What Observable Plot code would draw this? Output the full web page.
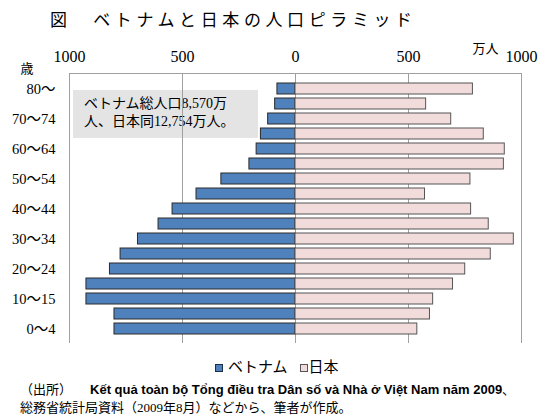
<!DOCTYPE html>
<html><head><meta charset="utf-8">
<script src="https://cdn.jsdelivr.net/npm/d3@7"></script>
<script src="https://cdn.jsdelivr.net/npm/@observablehq/plot@0.6"></script>
<style>
html,body{margin:0;padding:0;background:#fff;}
body{width:550px;height:416px;overflow:hidden;position:relative;font-family:"Liberation Serif","Noto Sans CJK JP",serif;color:#000;}
#title{position:absolute;left:50px;top:8px;font-size:17px;letter-spacing:4.6px;line-height:26px;white-space:nowrap;}
#note{position:absolute;left:73px;top:90px;width:185px;height:48px;background:#e4e4e4;z-index:0;font-size:14px;line-height:18px;box-sizing:border-box;padding:5px 0 0 11px;white-space:nowrap;}
#chart{position:absolute;left:0;top:35px;z-index:1;}
#legend{position:absolute;left:215px;top:357px;font-size:15px;line-height:20px;white-space:nowrap;}
.sw{display:inline-block;width:6px;height:6px;border:1px solid #333;vertical-align:0px;}
#caption{position:absolute;left:20px;top:381px;font-size:13px;line-height:18px;white-space:nowrap;}
.vn{font-family:"Liberation Sans",Arial,sans-serif;font-size:13px;font-weight:bold;margin-left:18px;}
</style></head>
<body>
<div id="title"></div>
<div id="note"></div>
<div id="chart"></div>
<div id="legend"></div>
<div id="caption"></div>
<script>
// ---- data ----
const ages = ["0～4","5～9","10～15","15～19","20～24","25～29","30～34","35～39","40～44","45～49","50～54","55～59","60～64","65～69","70～74","75～79","80～"];
const vietnam = [801,801,925,925,821,774,697,606,544,438,328,204,172,153,121,90,80];
const japan   = [539,595,609,697,751,864,966,855,777,573,774,922,926,833,689,578,785];
const yTickLabels = ["80～","70～74","60～64","50～54","40～44","30～34","20～24","10～15","0～4"];
const xTicks = [-1000,-500,0,500,1000];
const seriesNames = ["ベトナム","日本"];
const titleText = "図　ベトナムと日本の人口ピラミッド";
const unitText = "万人";
const ageText = "歳";
const noteLines = ["ベトナム総人口8,570万","人、日本同12,754万人。"];
const captionSource = "（出所）";
const captionVn = "Kết quả toàn bộ Tổng điều tra Dân số và Nhà ở Việt Nam năm 2009";
const captionLine2 = "総務省統計局資料（2009年8月）などから、筆者が作成。";

const colors = {vn:"#4f81bd", jp:"#f2dcdb"};

const rows = ages.map((a,i)=>({age:a, vn:-vietnam[i], jp:japan[i]}));

document.getElementById("title").textContent = titleText;
document.getElementById("note").innerHTML = noteLines.join("<br>");
document.getElementById("legend").innerHTML =
  `<span class="sw" style="background:${colors.vn};border-color:#1f2f4a"></span><span style="margin-left:5px">${seriesNames[0]}</span><span class="sw" style="background:${colors.jp};border-color:#555;margin-left:12px"></span><span style="margin-left:1px">${seriesNames[1]}</span>`;
document.getElementById("caption").innerHTML =
  `${captionSource}<span class="vn">${captionVn}</span>、<br>${captionLine2}`;

const chart = Plot.plot({
  width:550, height:320,
  marginTop:38, marginBottom:12, marginLeft:69, marginRight:29,
  style:{fontFamily:'"Liberation Serif","Noto Sans CJK JP",serif', fontSize:"14px", background:"transparent", color:"#000"},
  x:{domain:[-1000,1000]},
  y:{domain:ages.slice().reverse(), paddingInner:0.3, paddingOuter:0.15},
  marks:[
    Plot.gridX(xTicks, {stroke:"#a0a0a0", strokeOpacity:1}),
    Plot.frame({anchor:"top", stroke:"#a0a0a0"}),
    Plot.axisX(xTicks, {anchor:"top", tickSize:0, tickPadding:12, tickFormat:d=>String(Math.abs(d)), label:null, fontSize:16}),
    Plot.axisY(yTickLabels, {anchor:"left", tickSize:0, tickPadding:14, label:null, fontSize:14.5}),
    Plot.barX(rows, {x:"vn", y:"age", fill:colors.vn, stroke:"#2b2b2b", strokeWidth:1}),
    Plot.barX(rows, {x:"jp", y:"age", fill:colors.jp, stroke:"#555", strokeWidth:1}),
    Plot.text([unitText], {frameAnchor:"top-right", dx:-23, dy:-30, textAnchor:"end", fontSize:13}),
    Plot.text([ageText], {frameAnchor:"top-left", dx:-49, dy:-10, fontSize:13})
  ]
});
document.getElementById("chart").appendChild(chart);
</script>
</body></html>
